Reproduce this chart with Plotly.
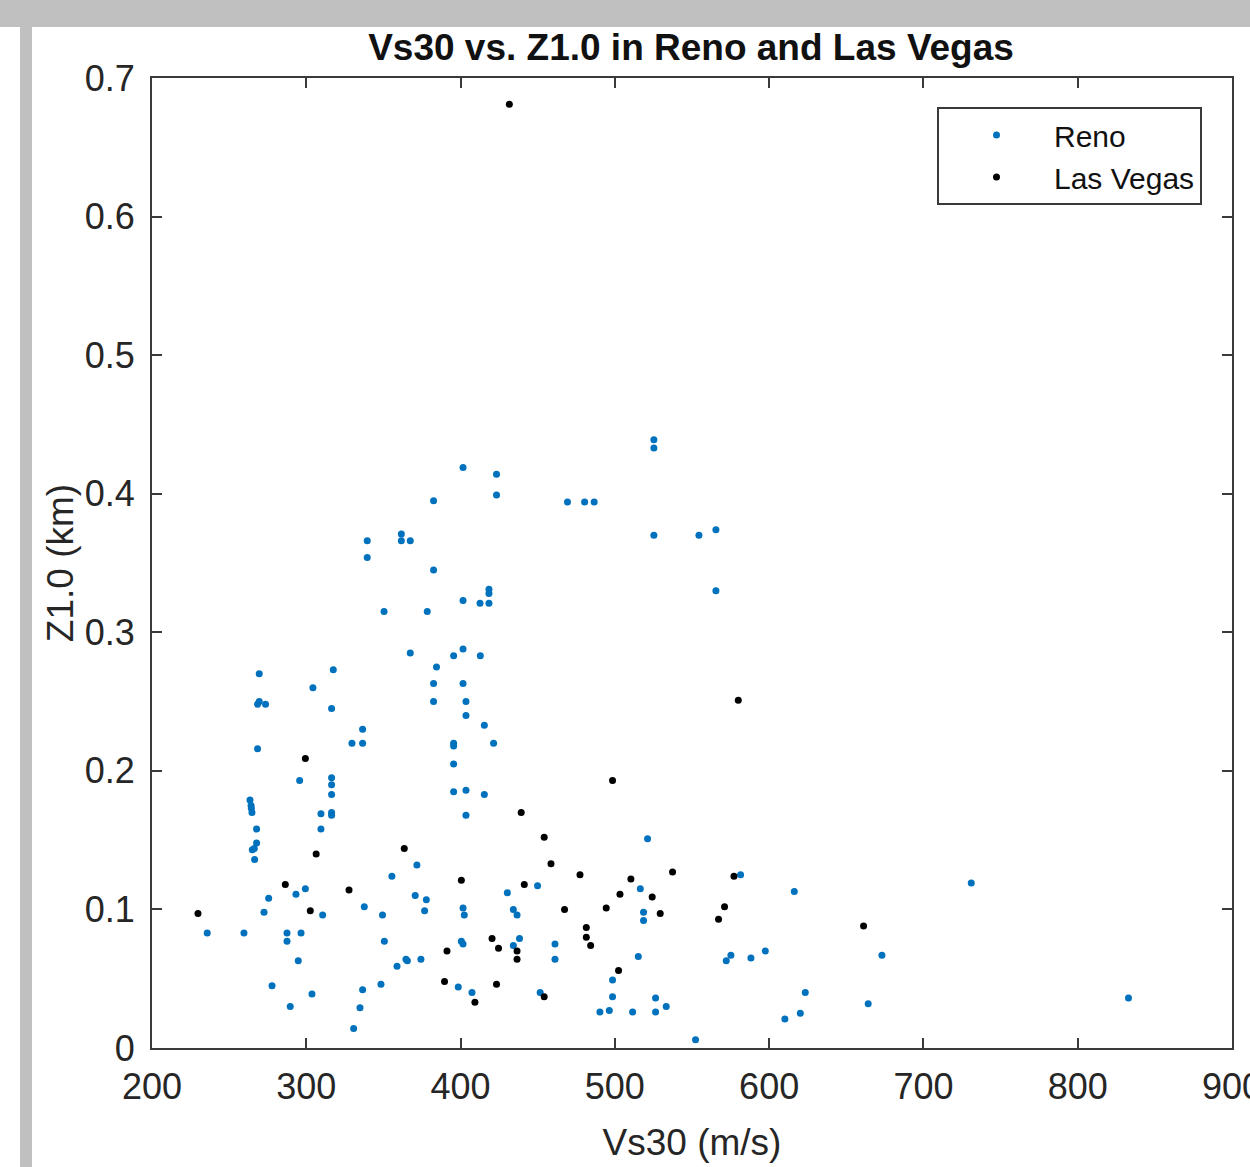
import plotly.graph_objects as go

# ---- data ----
reno_vs30 = [269.5, 317.5, 304.3, 268.4, 269.5, 273.6, 316.4, 268.4, 295.7, 316.4,
             316.4, 316.4, 263.5, 264.2, 264.4, 264.8, 309.5, 316.4, 316.4, 267.8,
             309.5, 267.8, 265.0, 266.3, 266.5, 299.4, 293.3, 275.6, 272.6, 310.6,
             235.8, 259.6, 287.5, 287.5, 296.6, 294.8, 277.8, 303.7, 289.6,
             367.4, 395.5, 401.6, 412.8, 384.4, 382.5, 401.6, 382.5, 403.5, 403.5,
             415.4, 336.5, 329.6, 336.5, 395.5, 395.5, 421.4, 395.5, 395.5, 403.5,
             415.4, 403.5, 371.7, 355.5, 370.6, 377.8, 376.7, 337.6, 349.4, 401.6,
             402.4, 430.3, 434.2, 436.6, 449.9, 350.6, 400.5, 401.6, 438.2, 434.2,
             364.6, 365.5, 374.3, 358.8, 348.4, 336.5, 398.5, 407.4, 334.8, 330.7,
             451.6, 521.2, 516.5, 518.6, 518.6, 461.2, 461.2, 515.2, 572.2, 498.5,
             498.5, 526.4, 533.3, 490.3, 496.4, 511.5, 526.4, 552.3,
             581.5, 616.3, 731.0, 575.2, 588.2, 597.5, 673.1, 623.4, 610.2, 620.2,
             664.2, 832.9,
             401.6, 423.3, 423.3, 382.5, 361.6, 361.6, 367.4, 339.5, 339.5, 382.5,
             418.4, 418.4, 401.6, 412.6, 418.4, 350.4, 378.4,
             525.3, 525.3, 469.3, 480.4, 486.6, 525.3, 554.5, 565.5, 565.5]
reno_z1 = [0.270, 0.273, 0.260, 0.248, 0.250, 0.248, 0.245, 0.216, 0.193, 0.195,
           0.190, 0.183, 0.179, 0.175, 0.173, 0.170, 0.169, 0.170, 0.168, 0.158,
           0.158, 0.148, 0.143, 0.144, 0.136, 0.115, 0.111, 0.108, 0.098, 0.096,
           0.083, 0.083, 0.083, 0.077, 0.083, 0.063, 0.045, 0.039, 0.030,
           0.285, 0.283, 0.288, 0.283, 0.275, 0.263, 0.263, 0.250, 0.250, 0.240,
           0.233, 0.230, 0.220, 0.220, 0.220, 0.218, 0.220, 0.205, 0.185, 0.186,
           0.183, 0.168, 0.132, 0.124, 0.110, 0.107, 0.099, 0.102, 0.096, 0.101,
           0.096, 0.112, 0.100, 0.096, 0.117, 0.077, 0.077, 0.075, 0.079, 0.074,
           0.064, 0.063, 0.064, 0.059, 0.046, 0.042, 0.044, 0.040, 0.029, 0.014,
           0.040, 0.151, 0.115, 0.098, 0.092, 0.075, 0.064, 0.066, 0.063, 0.049,
           0.037, 0.036, 0.030, 0.026, 0.027, 0.026, 0.026, 0.006,
           0.125, 0.113, 0.119, 0.067, 0.065, 0.070, 0.067, 0.040, 0.021, 0.025,
           0.032, 0.036,
           0.419, 0.414, 0.399, 0.395, 0.371, 0.366, 0.366, 0.366, 0.354, 0.345,
           0.331, 0.328, 0.323, 0.321, 0.321, 0.315, 0.315,
           0.439, 0.433, 0.394, 0.394, 0.394, 0.370, 0.370, 0.374, 0.330]

lv_vs30 = [431.6, 580.0, 299.4, 498.5, 439.3, 363.5, 454.2, 306.4, 458.6, 477.4,
           537.4, 510.4, 577.2, 286.4, 327.7, 400.5, 441.3, 503.3, 524.2, 229.8,
           302.6, 467.4, 494.4, 529.4, 571.1, 567.2, 661.2, 481.5, 481.5, 484.3,
           420.4, 424.6, 436.6, 436.6, 391.2, 502.4, 389.6, 423.3, 409.3, 454.2]
lv_z1 = [0.681, 0.251, 0.209, 0.193, 0.170, 0.144, 0.152, 0.140, 0.133, 0.125,
         0.127, 0.122, 0.124, 0.118, 0.114, 0.121, 0.118, 0.111, 0.109, 0.097,
         0.099, 0.100, 0.101, 0.097, 0.102, 0.093, 0.088, 0.087, 0.080, 0.074,
         0.079, 0.072, 0.070, 0.064, 0.070, 0.056, 0.048, 0.046, 0.033, 0.037]

x_ticks = [200, 300, 400, 500, 600, 700, 800, 900]
y_ticks = [0, 0.1, 0.2, 0.3, 0.4, 0.5, 0.6, 0.7]
y_tick_text = ["0", "0.1", "0.2", "0.3", "0.4", "0.5", "0.6", "0.7"]

# ---- layout geometry ----
W, H = 1250, 1167
L, R, T, B = 152, 18, 78, 119
PW, PH = W - L - R, H - T - B

def px(x):
    return (x - L) / PW

def py(y):
    return (H - B - y) / PH

FONT = "Liberation Sans, Arial, sans-serif"
AXC = "#3a3a3a"
TXC = "#262626"
GRAY = "#c0c0c0"

fig = go.Figure()
fig.add_trace(go.Scatter(x=reno_vs30, y=reno_z1, mode="markers", name="Reno",
                         marker=dict(color="#0072BD", size=7)))
fig.add_trace(go.Scatter(x=lv_vs30, y=lv_z1, mode="markers", name="Las Vegas",
                         marker=dict(color="#000000", size=7)))

axis_common = dict(showline=True, linecolor=AXC, linewidth=2, mirror="ticks",
                   ticks="inside", ticklen=10, tickwidth=2, tickcolor=AXC,
                   showgrid=False, zeroline=False, automargin=False,
                   tickfont=dict(family=FONT, size=36, color=TXC))

fig.update_layout(
    width=W, height=H,
    margin=dict(l=L, r=R, t=T, b=B, pad=0, autoexpand=False),
    paper_bgcolor="white", plot_bgcolor="white",
    title=dict(text="<b>Vs30 vs. Z1.0 in Reno and Las Vegas</b>",
               x=691 / W, xanchor="center", y=1 - 47 / H, yanchor="middle",
               font=dict(family=FONT, size=37, color="#111111")),
    xaxis=dict(range=[200, 900], tickvals=x_ticks, ticktext=[str(v) for v in x_ticks],
               ticklabeloverflow="allow", ticklabelstandoff=6,
               title=dict(text="Vs30 (m/s)", standoff=23,
                          font=dict(family=FONT, size=37, color=TXC)),
               **axis_common),
    yaxis=dict(range=[0, 0.7], tickvals=y_ticks, ticktext=y_tick_text,
               ticklabelstandoff=8,
               title=dict(text="Z1.0 (km)", standoff=0,
                          font=dict(family=FONT, size=37, color=TXC)),
               **axis_common),
    legend=dict(x=px(937), y=py(107), xanchor="left", yanchor="top",
                bgcolor="white", bordercolor=AXC, borderwidth=2,
                font=dict(family=FONT, size=30, color="#111111"),
                itemwidth=105, tracegroupgap=0),
    showlegend=True,
    shapes=[
        dict(type="rect", xref="paper", yref="paper", layer="below",
             x0=px(0), x1=px(W), y0=py(27), y1=py(0),
             fillcolor=GRAY, line=dict(width=0)),
        dict(type="rect", xref="paper", yref="paper", layer="below",
             x0=px(20), x1=px(32), y0=py(H), y1=py(27),
             fillcolor=GRAY, line=dict(width=0)),
    ],
)

fig.write_html("out.html")
